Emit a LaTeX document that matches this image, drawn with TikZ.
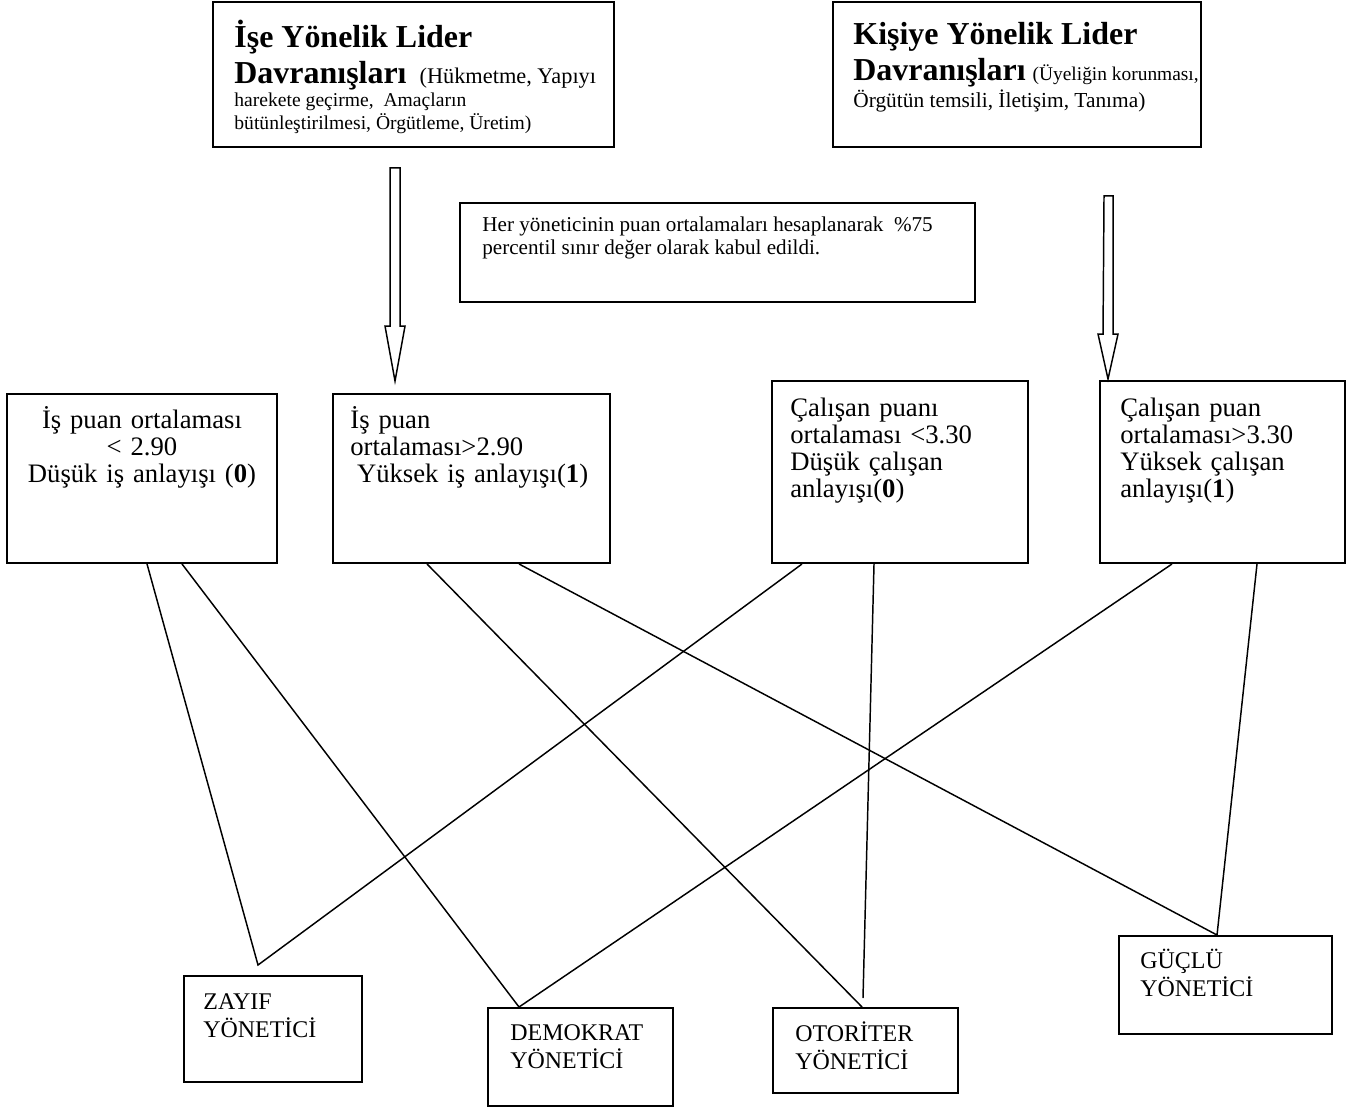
\documentclass[tikz,border=0pt]{standalone}
\usepackage{fontspec}
\setmainfont{Liberation Serif}
\usetikzlibrary{fit,calc}
\newcommand\fmid{\fontsize{13.6}{13.8}\selectfont}
\newcommand\fbot{\fontsize{12.2}{14.3}\selectfont}
\newcommand\ftitle{\bfseries\fontsize{16.3}{18.9}\selectfont}
\newcommand\fsmallA{\normalfont\fontsize{10}{11.7}\selectfont}
\newcommand\fparA{\normalfont\fontsize{11.4}{11.7}\selectfont}
\newcommand\fparB{\normalfont\fontsize{9.9}{11.7}\selectfont}
\newcommand\fsmallB{\normalfont\fontsize{10.9}{11.7}\selectfont}
\newcommand\fnote{\normalfont\fontsize{10.77}{11.7}\selectfont}
\begin{document}
\begin{tikzpicture}[x=0.51pt,y=-0.51pt,
  box/.style={draw, line width=1pt, inner sep=0pt},
  conn/.style={line width=0.75pt},
  bigarrow/.style={draw, line width=0.75pt, line join=miter},
  tl/.style={anchor=base west, inner sep=0pt},
  midc/.style={anchor=base, inner sep=0pt, font=\fmid, text width=260*0.51pt, align=center},
  midl/.style={anchor=base west, inner sep=0pt, font=\fmid, text width=250*0.51pt, align=left},
  botl/.style={anchor=base west, inner sep=0pt, font=\fbot, text width=170*0.51pt, align=left}]
\useasboundingbox (0,0) rectangle (1352,1110);

% top boxes
\node[box, fit={(213,2) (614,147)}] (ise) {};
\node[box, fit={(833,2) (1201,147)}] (kisi) {};
\node[box, fit={(460,203) (975,302)}] (not) {};

\node[tl] (t1a) at (234,47) {\ftitle İşe Yönelik Lider};
\node[tl] (t1b) at (234,83) {\ftitle Davranışları\fparA\hspace{6.6pt}(Hükmetme, Yapıyı};
\node[tl] (t1c) at (234,106) {\fsmallA harekete geçirme,\ \ Amaçların};
\node[tl] (t1d) at (234,129) {\fsmallA bütünleştirilmesi, Örgütleme, Üretim)};

\node[tl] (t2a) at (853,44) {\ftitle Kişiye Yönelik Lider};
\node[tl] (t2b) at (853,80) {\ftitle Davranışları\fparB\hspace{3.6pt}(Üyeliğin korunması,};
\node[tl] (t2c) at (853,107) {\fsmallB Örgütün temsili, İletişim, Tanıma)};

\node[tl] (nott1) at (482,231) {\fnote Her yöneticinin puan ortalamaları hesaplanarak\ \ \%75};
\node[tl] (nott2) at (482,254) {\fnote percentil sınır değer olarak kabul edildi.};

% middle boxes
\node[box, fit={(7,394) (277,563)}] (A) {};
\node[box, fit={(333,394) (610,563)}] (B) {};
\node[box, fit={(772,381) (1028,563)}] (C) {};
\node[box, fit={(1100,381) (1345,563)}] (D) {};

\node[midc] (At) at (142,428) {İş puan ortalaması\\< 2.90\\Düşük iş anlayışı (\textbf{0})};
\node[midl] (Bt) at (350,428) {İş puan\\ortalaması>2.90\\\hspace*{0.25em}Yüksek iş anlayışı(\textbf{1})};
\node[midl] (Ct) at (790,416) {Çalışan puanı\\ortalaması <3.30\\Düşük çalışan\\anlayışı(\textbf{0})};
\node[midl] (Dt) at (1120,416) {Çalışan puan\\ortalaması>3.30\\Yüksek çalışan\\anlayışı(\textbf{1})};

% bottom boxes
\node[box, fit={(184,976) (362,1082)}] (zay) {};
\node[box, fit={(488,1008) (673,1106)}] (dem) {};
\node[box, fit={(773,1008) (958,1093)}] (oto) {};
\node[box, fit={(1119,936) (1332,1034)}] (guc) {};

\node[botl] (zayt) at (203,1009) {ZAYIF\\YÖNETİCİ};
\node[botl] (demt) at (510,1040) {DEMOKRAT\\YÖNETİCİ};
\node[botl] (otot) at (795,1041) {OTORİTER\\YÖNETİCİ};
\node[botl] (guct) at (1140,968) {GÜÇLÜ\\YÖNETİCİ};

% block arrows
\coordinate (a1s) at ($(ise.south west)+(183,20)$);
\coordinate (a1t) at ($(B.north west)+(63,-12)$);
\draw[bigarrow] ($(a1s)+(-5,0)$) -- ($(a1s)+(5,0)$) -- ($(a1t)+(5,-55)$) -- ($(a1t)+(10,-55)$)
  -- (a1t) -- ($(a1t)+(-10,-55)$) -- ($(a1t)+(-5,-55)$) -- cycle;
\coordinate (a2s) at ($(kisi.south west)+(276.5,48)$);
\coordinate (a2t) at ($(D.north west)+(9,-1)$);
\draw[bigarrow] ($(a2s)+(-4.5,0)$) -- ($(a2s)+(4.5,0)$) -- ($(a2t)+(5,-45)$) -- ($(a2t)+(10,-45)$)
  -- (a2t) -- ($(a2t)+(-10,-45)$) -- ($(a2t)+(-5,-45)$) -- cycle;

% connectors
\coordinate (zap) at (258,965);
\coordinate (oap) at (863,998);
\draw[conn] ($(A.south west)+(141,0)$) -- (zap) -- ($(C.south west)+(31,0)$);
\draw[conn] ($(A.south west)+(176,0)$) -- ($(dem.north west)+(32,0)$) -- ($(D.south west)+(73,0)$);
\draw[conn] ($(B.south west)+(95,0)$) -- ($(oto.north west)+(90,0)$);
\draw[conn] ($(C.south west)+(103,0)$) -- (oap);
\draw[conn] ($(B.south west)+(187,0)$) -- ($(guc.north west)+(99,0)$) -- ($(D.south west)+(158,0)$);
\end{tikzpicture}
\end{document}
